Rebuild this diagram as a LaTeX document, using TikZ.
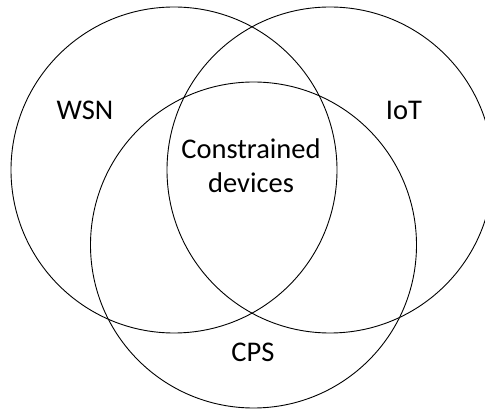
\documentclass[tikz,border=0pt]{standalone}
\usepackage{fontspec}
\setmainfont{Carlito}
\begin{document}
\begin{tikzpicture}[x=1pt,y=-1pt,
  setcircle/.style={draw=black,line width=0.9pt,circle,minimum size=326pt,inner sep=0pt},
  lbl/.style={font=\fontsize{28.5}{34}\selectfont,align=center,inner sep=0pt}]
\useasboundingbox (0,0) rectangle (485,411);
\fill[white] (0,0) rectangle (485,411);
\node[setcircle] (wsn) at (174,170) {};
\node[setcircle] (iot) at (330,170) {};
\node[setcircle] (cps) at (253.5,245) {};
\node[lbl] (twsn) at (85,110) {WSN};
\node[lbl] (tiot) at (404,110) {IoT};
\node[lbl] (tcd) at (251,166) {Constrained\\devices};
\node[lbl] (tcps) at (253,352) {CPS};
\end{tikzpicture}
\end{document}
